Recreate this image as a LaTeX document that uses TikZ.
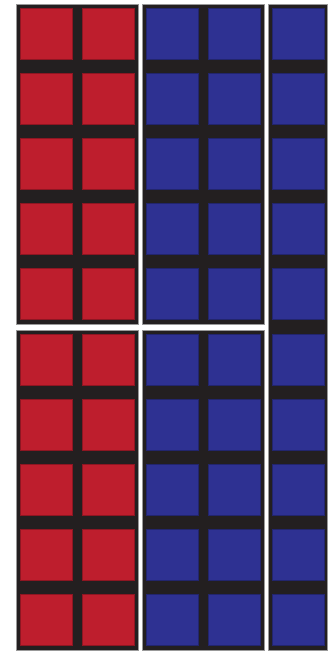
\documentclass[tikz,border=0pt]{standalone}
\definecolor{cred}{RGB}{190,30,45}
\definecolor{cblue}{RGB}{46,49,146}
\definecolor{cdark}{RGB}{35,31,32}
\begin{document}
\begin{tikzpicture}[x=1pt,y=-1pt,
  block/.style={fill=cdark,draw=black!40,line width=0.7pt},
  redcell/.style={fill=cred,draw=cred!75!black,line width=0.5pt},
  bluecell/.style={fill=cblue,draw=cblue!75!black,line width=0.5pt}]
\useasboundingbox (0,0) rectangle (336,652);
% two-column blocks (top and bottom)
\foreach \yo in {4,330} {
  \draw[block] (16,\yo) rectangle (138,\yo+320);
  \draw[block] (142.7,\yo) rectangle (264.3,\yo+320);
  \foreach \i in {0,...,4} {
    \pgfmathsetmacro\t{\yo+4+65*\i}
    \draw[redcell] (20,\t) rectangle (72,\t+51.6);
    \draw[redcell] (82,\t) rectangle (134,\t+51.6);
    \draw[bluecell] (146.7,\t) rectangle (198.3,\t+51.6);
    \draw[bluecell] (208.7,\t) rectangle (260.3,\t+51.6);
  }
}
% single tall column
\draw[block] (268.3,4) rectangle (327.6,650);
\foreach \t in {8,73,138,203,268,334,399,464,529,594} {
  \draw[bluecell] (272.7,\t) rectangle (324,\t+51.6);
}
\end{tikzpicture}
\end{document}
